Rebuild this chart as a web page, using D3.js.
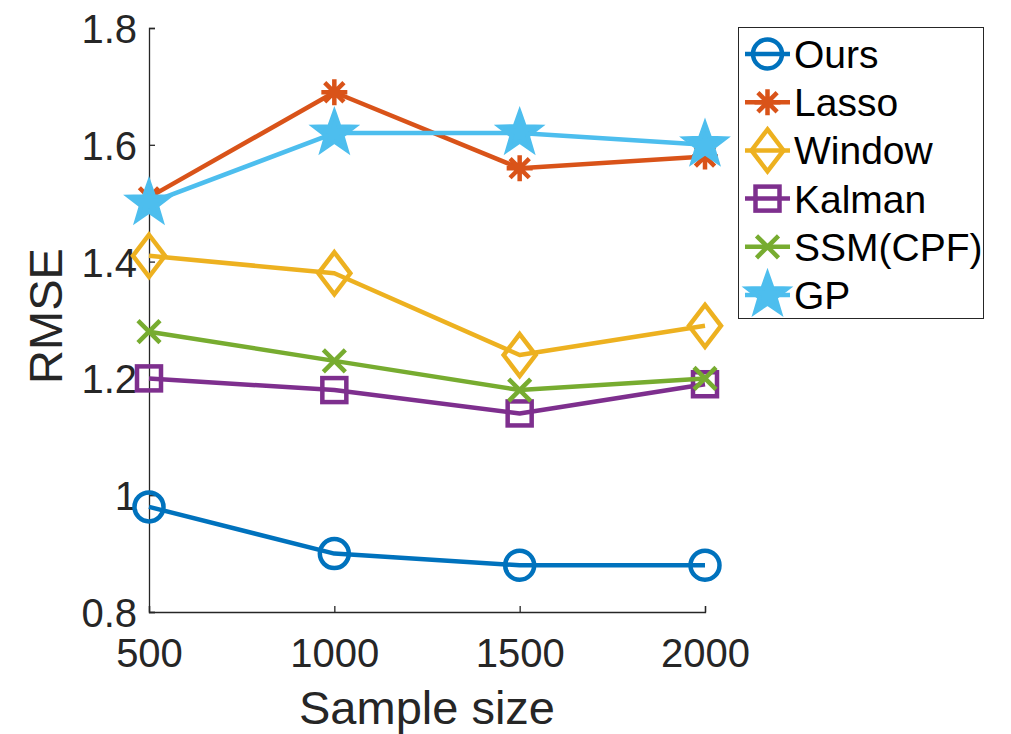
<!DOCTYPE html>
<html>
<head>
<meta charset="utf-8">
<script src="https://cdn.jsdelivr.net/npm/d3@7"></script>
<style>
  html, body { margin: 0; padding: 0; background: #fff; }
  svg { display: block; }
  text { font-family: "Liberation Sans", Arial, Helvetica, sans-serif; }
</style>
</head>
<body>
<svg id="chart" width="1011" height="734"></svg>
<script>
// Sample sizes on the x axis
const sampleSizes = [500, 1000, 1500, 2000];

// RMSE per method
const ours   = [0.98, 0.90, 0.88, 0.88];
const lasso  = [1.51, 1.69, 1.56, 1.58];
const window_ = [1.41, 1.38, 1.24, 1.29];
const kalman = [1.20, 1.18, 1.14, 1.19];
const ssm    = [1.28, 1.23, 1.18, 1.20];
const gp     = [1.50, 1.62, 1.62, 1.60];

const seriesNames = ["Ours", "Lasso", "Window", "Kalman", "SSM(CPF)", "GP"];
const xTicks = [500, 1000, 1500, 2000];
const yTicks = [0.8, 1.0, 1.2, 1.4, 1.6, 1.8];

const seriesValues = [ours, lasso, window_, kalman, ssm, gp];
const colors = ["#0072BD", "#D95319", "#EDB120", "#7E2F8E", "#77AC30", "#4DBEEE"];
const markers = ["circle", "asterisk", "diamond", "square", "cross", "star"];

const svg = d3.select("#chart");
const x = d3.scaleLinear().domain([500, 2000]).range([149, 705]);
const y = d3.scaleLinear().domain([0.8, 1.8]).range([612, 28]);

const axisColor = "#262626";
const lw = 4.5;

// Axes (MATLAB style: ticks inward, no box)
const xAxis = svg.append("g").attr("transform", `translate(0,${y(0.8)})`)
  .call(d3.axisBottom(x).tickValues(xTicks).tickSize(-6).tickPadding(27).tickFormat(d3.format("d")));
const yAxis = svg.append("g").attr("transform", `translate(${x(500)},0)`)
  .call(d3.axisLeft(y).tickValues(yTicks).tickSize(-6).tickPadding(12)
    .tickFormat(d => d === 1 ? "1" : d3.format(".1f")(d)));

[xAxis, yAxis].forEach(g => {
  g.select(".domain").attr("stroke", axisColor).attr("stroke-width", 1.3);
  g.selectAll(".tick line").attr("stroke", axisColor).attr("stroke-width", 1.3);
  g.selectAll(".tick text").attr("fill", axisColor).attr("font-size", 40);
});
xAxis.selectAll(".tick text").attr("dy", "0.71em");
yAxis.selectAll(".tick text").attr("dy", "0.36em");

// Axis titles
svg.append("text").attr("x", 427).attr("y", 724).attr("text-anchor", "middle")
  .attr("font-size", 47).attr("fill", axisColor).text("Sample size");
svg.append("text").attr("transform", `translate(62,316) rotate(-90)`).attr("text-anchor", "middle")
  .attr("font-size", 47).attr("fill", axisColor).text("RMSE");

// Marker drawing
function drawMarker(g, type, cx, cy, color) {
  const m = g.append("g").attr("transform", `translate(${cx},${cy})`)
    .attr("fill", "none").attr("stroke", color).attr("stroke-width", lw);
  if (type === "circle") {
    m.append("circle").attr("r", 14.5);
  } else if (type === "square") {
    m.append("rect").attr("x", -12).attr("y", -12).attr("width", 24).attr("height", 24);
  } else if (type === "diamond") {
    m.append("path").attr("d", "M0,-21 L16,0 L0,21 L-16,0 Z").attr("stroke-linejoin", "miter");
  } else if (type === "cross") {
    const s = 11;
    m.append("path").attr("d", `M${-s},${-s} L${s},${s} M${-s},${s} L${s},${-s}`);
  } else if (type === "asterisk") {
    const s = 13, d = s * 0.74;
    m.append("path").attr("d", `M0,${-s} L0,${s} M${-s},0 L${s},0 M${-d},${-d} L${d},${d} M${-d},${d} L${d},${-d}`);
  } else if (type === "star") {
    // thick-stroked pentagram: the stroke nearly closes the interior
    const R = 20.5, r = 8.3;
    const pts = d3.range(10).map(i => {
      const a = -Math.PI / 2 + i * Math.PI / 5;
      const rad = i % 2 === 0 ? R : r;
      return [rad * Math.cos(a), rad * Math.sin(a)];
    });
    m.append("path").attr("d", "M" + pts.map(p => p.join(",")).join("L") + "Z")
      .attr("fill", color).attr("stroke-linejoin", "miter");
  }
}

const line = d3.line().x((d, i) => x(sampleSizes[i])).y(d => y(d));

seriesValues.forEach((vals, k) => {
  const g = svg.append("g");
  g.append("path").datum(vals).attr("d", line)
    .attr("fill", "none").attr("stroke", colors[k]).attr("stroke-width", lw)
    .attr("stroke-linejoin", "round");
  vals.forEach((v, i) => drawMarker(g, markers[k], x(sampleSizes[i]), y(v), colors[k]));
});

// Legend
const legend = svg.append("g");
legend.append("rect").attr("x", 738.5).attr("y", 27.5).attr("width", 245).attr("height", 291)
  .attr("fill", "#fff").attr("stroke", "#262626").attr("stroke-width", 1);
seriesNames.forEach((name, k) => {
  const cy = 54 + k * 48.2;
  legend.append("line").attr("x1", 745).attr("x2", 790).attr("y1", cy).attr("y2", cy)
    .attr("stroke", colors[k]).attr("stroke-width", lw);
  drawMarker(legend, markers[k], 767.5, cy, colors[k]);
  legend.append("text").attr("x", 794).attr("y", cy).attr("dy", "0.36em")
    .attr("font-size", 39).attr("fill", "#000").text(name);
});
</script>
</body>
</html>
